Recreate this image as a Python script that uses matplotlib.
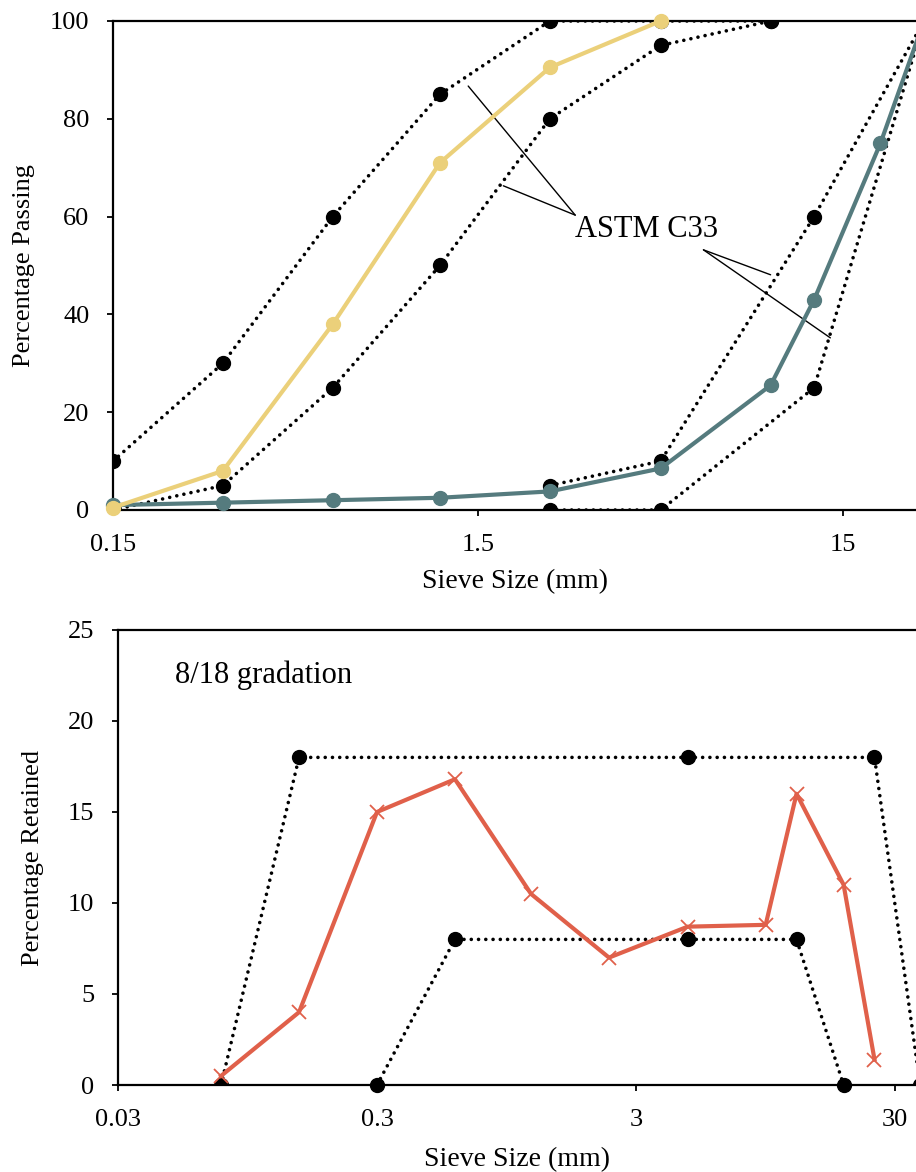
import matplotlib
matplotlib.use("Agg")
import matplotlib.pyplot as plt

plt.rcParams['font.family'] = ['Liberation Serif', 'DejaVu Serif']

# ---------------- Data ----------------
# Top chart: percentage passing
fine_sieves = [0.15, 0.3, 0.6, 1.18, 2.36, 4.75, 9.5]
fine_upper = [10, 30, 60, 85, 100, 100, 100]
fine_lower = [0, 5, 25, 50, 80, 95, 100]
sand_sieves = [0.15, 0.3, 0.6, 1.18, 2.36, 4.75]
sand_passing = [0.5, 8, 38, 71, 90.5, 100]

coarse_sieves = [2.36, 4.75, 12.5, 25]
coarse_upper = [5, 10, 60, 100]
coarse_lower = [0, 0, 25, 100]
agg_sieves = [0.15, 0.3, 0.6, 1.18, 2.36, 4.75, 9.5, 12.5, 19, 25]
agg_passing = [1, 1.5, 2, 2.5, 3.8, 8.5, 25.5, 43, 75, 100]

# Bottom chart: percentage retained (8/18 gradation)
ret_upper_sieves = [0.075, 0.15, 4.75, 25, 37.5]
ret_upper = [0, 18, 18, 18, 0]
ret_lower_sieves = [0.3, 0.6, 4.75, 12.5, 19]
ret_lower = [0, 8, 8, 8, 0]
ret_sieves = [0.075, 0.15, 0.3, 0.6, 1.18, 2.36, 4.75, 9.5, 12.5, 19, 25]
ret_values = [0.5, 4, 15, 16.8, 10.5, 7, 8.7, 8.8, 16, 11, 1.4]

top_ticks = [0.15, 1.5, 15]
top_ticklabels = ["0.15", "1.5", "15"]
bot_ticks = [0.03, 0.3, 3, 30]
bot_ticklabels = ["0.03", "0.3", "3", "30"]

# ---------------- Styles ----------------
TEAL = "#557b7e"
YELLOW = "#ebd07a"
ORANGE = "#e0604a"
dot_style = dict(color="black", lw=2.6, linestyle=(0, (0.01, 2.0)),
                 dash_capstyle="round", marker="o", ms=10,
                 markerfacecolor="black", markeredgecolor="black")
FS = 19

fig = plt.figure(figsize=(9.16, 11.72), dpi=100)

def style_axes(ax):
    ax.spines['right'].set_visible(False)
    for s in ['left', 'bottom', 'top']:
        ax.spines[s].set_linewidth(1.6)
    ax.tick_params(direction='out', length=4.5, width=1.3, labelsize=FS,
                   top=False, right=False, pad=12.5)
    ax.minorticks_off()

# ---------------- Top chart ----------------
ax1 = fig.add_axes([113/916, 1-510/1172, 1-113/916, (510-21)/1172])
ax1.set_xscale('log')
ax1.plot(fine_sieves, fine_upper, **dot_style, zorder=3)
ax1.plot(fine_sieves, fine_lower, **dot_style, zorder=3)
ax1.plot(coarse_sieves, coarse_upper, **dot_style, zorder=3)
ax1.plot(coarse_sieves, coarse_lower, **dot_style, zorder=3)
ax1.plot(agg_sieves, agg_passing, color=TEAL, lw=3, marker='o', ms=10, zorder=4, clip_on=False)
ax1.plot(sand_sieves, sand_passing, color=YELLOW, lw=3, marker='o', ms=10, zorder=5, clip_on=False)
ax1.set_xlim(0.15, 0.15*10**((916-113)/365))
ax1.set_ylim(0, 100)
ax1.set_xticks(top_ticks)
ax1.set_xticklabels(top_ticklabels)
ax1.set_yticks([0, 20, 40, 60, 80, 100])
style_axes(ax1)
ax1.set_xlabel("Sieve Size (mm)", fontsize=20, labelpad=10)
ax1.set_ylabel("Percentage Passing", fontsize=FS, labelpad=11)

ax1.text(2.77, 57.3, "ASTM C33", fontsize=22, ha='left', va='center', zorder=6)
lp = dict(arrowstyle='-', color='black', lw=1.0, shrinkA=0, shrinkB=0)
ax1.annotate('', xy=(1.41, 86.7), xytext=(2.77, 60.3), arrowprops=lp)
ax1.annotate('', xy=(1.76, 66.3), xytext=(2.77, 60.3), arrowprops=lp)
ax1.annotate('', xy=(9.5, 48.1), xytext=(6.22, 53.2), arrowprops=lp)
ax1.annotate('', xy=(13.85, 35.2), xytext=(6.22, 53.2), arrowprops=lp)

# ---------------- Bottom chart ----------------
ax2 = fig.add_axes([118/916, 1-1085/1172, 1-118/916, (1085-630)/1172])
ax2.set_xscale('log')
ax2.plot(ret_upper_sieves, ret_upper, **dot_style, zorder=3)
ax2.plot(ret_lower_sieves, ret_lower, **dot_style, zorder=3, clip_on=False)
ax2.plot(ret_sieves, ret_values, color=ORANGE, lw=3, marker='x', ms=10, mew=1.3, zorder=4)
ax2.set_xlim(0.03, 0.03*10**((916-118)/259))
ax2.set_ylim(0, 25)
ax2.set_xticks(bot_ticks)
ax2.set_xticklabels(bot_ticklabels)
ax2.set_yticks([0, 5, 10, 15, 20, 25])
style_axes(ax2)
ax2.set_xlabel("Sieve Size (mm)", fontsize=20, labelpad=12)
ax2.set_ylabel("Percentage Retained", fontsize=FS, labelpad=17)
ax2.text(0.03*10**((175-118)/259), 22.5, "8/18 gradation", fontsize=22, ha='left', va='center')

fig.savefig("out.png", dpi=100)
